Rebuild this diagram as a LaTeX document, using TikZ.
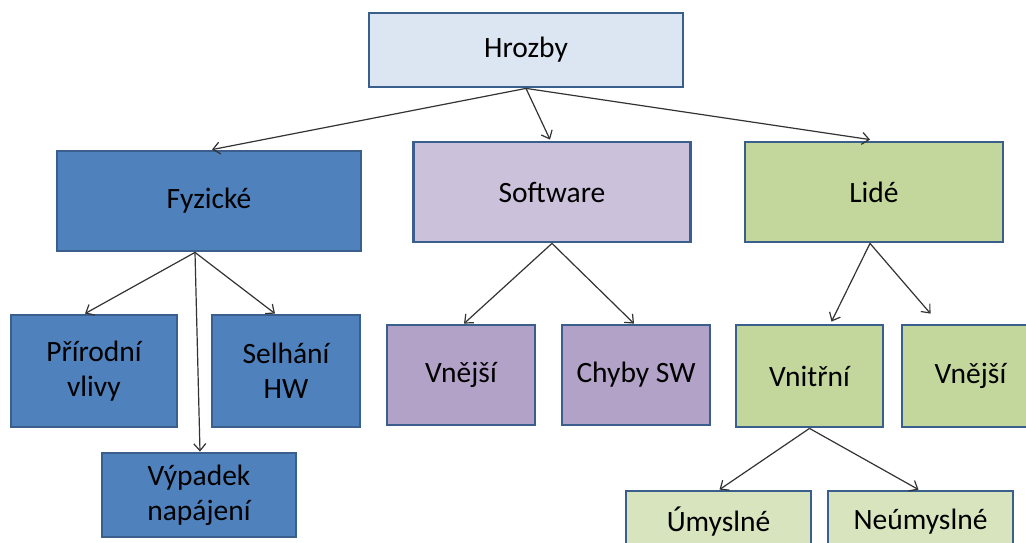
\documentclass[tikz,border=0pt]{standalone}
\usepackage{fontspec}
\setmainfont{Carlito}
\usetikzlibrary{arrows.meta,calc}
\definecolor{bord}{HTML}{3A5F8C}
\definecolor{topfill}{HTML}{DCE6F2}
\definecolor{fyzfill}{HTML}{4F81BD}
\definecolor{swfill}{HTML}{CCC1DA}
\definecolor{swsub}{HTML}{B3A2C7}
\definecolor{lidfill}{HTML}{C3D69B}
\definecolor{lidsub}{HTML}{D7E4BD}
\definecolor{arr}{HTML}{333333}
\tikzset{
  box/.style={draw=bord, line width=2.8pt, rectangle, inner sep=0pt, align=center,
    font=\fontsize{29.5}{35}\selectfont, text=black},
  conn/.style={draw=arr, line width=1.2pt, -{Straight Barb[length=7pt,width=12pt,line width=1.2pt]}}
}
\begin{document}
\begin{tikzpicture}[x=1pt,y=-1pt]
\useasboundingbox (0,0) rectangle (1026,543);
\clip (0,0) rectangle (1026,543);
\fill[white] (0,0) rectangle (1026,543);
\node[box, fill=topfill, minimum width=314pt, minimum height=74pt] (hro) at (526,50) {Hrozby};
\node[box, fill=fyzfill, minimum width=304pt, minimum height=100pt] (fyz) at (209,201) {Fyzické};
\node[box, fill=swfill, minimum width=277pt, minimum height=100pt] (sw) at (552,192) {Software};
\node[box, fill=lidfill, minimum width=258pt, minimum height=100pt] (lid) at (874,192) {Lidé};
\node[box, fill=fyzfill, minimum width=166pt, minimum height=112pt] (pri) at (94,371) {Přírodní\\vlivy};
\node[box, fill=fyzfill, minimum width=148pt, minimum height=112pt] (sel) at (286,371) {Selhání\\HW};
\node[box, fill=fyzfill, minimum width=194pt, minimum height=84pt] (vyp) at (199,495) {Výpadek\\napájení};
\node[box, fill=swsub, minimum width=148pt, minimum height=100pt] (vnesw) at (461,375) {Vnější};
\node[box, fill=swsub, minimum width=148pt, minimum height=100pt] (chy) at (636,375) {Chyby SW};
\node[box, fill=lidfill, minimum width=147pt, minimum height=102pt] (vni) at (809.5,376) {Vnitřní};
\node[box, fill=lidfill, minimum width=137pt, minimum height=102pt] (vnel) at (970.5,376) {Vnější};
\node[box, fill=lidsub, minimum width=185pt, minimum height=62pt] (umy) at (718.5,522) {Úmyslné};
\node[box, fill=lidsub, minimum width=185pt, minimum height=62pt] (neu) at (920.5,522) {Neúmyslné};
% connectors
\draw[conn] (hro.south) -- ($(fyz.north)+(3,0)$);
\draw[conn] (hro.south) -- ($(sw.north)+(-2,-1)$);
\draw[conn] (hro.south) -- ($(lid.north)+(-4,-1)$);
\draw[conn] ($(fyz.south)+(-14,0)$) -- ($(pri.north)+(-9,0)$);
\draw[conn] ($(fyz.south)+(-14,0)$) -- ($(sel.north)+(-11,0)$);
\draw[conn] ($(fyz.south)+(-14,0)$) -- ($(vyp.north)+(1,0)$);
\draw[conn] (sw.south) -- ($(vnesw.north)+(3,0)$);
\draw[conn] (sw.south) -- ($(chy.north)+(-2,0)$);
\draw[conn] ($(lid.south)+(-4,0)$) -- ($(vni.north)+(22,-2)$);
\draw[conn] ($(lid.south)+(-4,0)$) -- ($(vnel.north)+(-40,-10)$);
\draw[conn] (vni.south) -- ($(umy.north)+(1,0)$);
\draw[conn] (vni.south) -- ($(neu.north)+(-2,0)$);
\end{tikzpicture}
\end{document}
